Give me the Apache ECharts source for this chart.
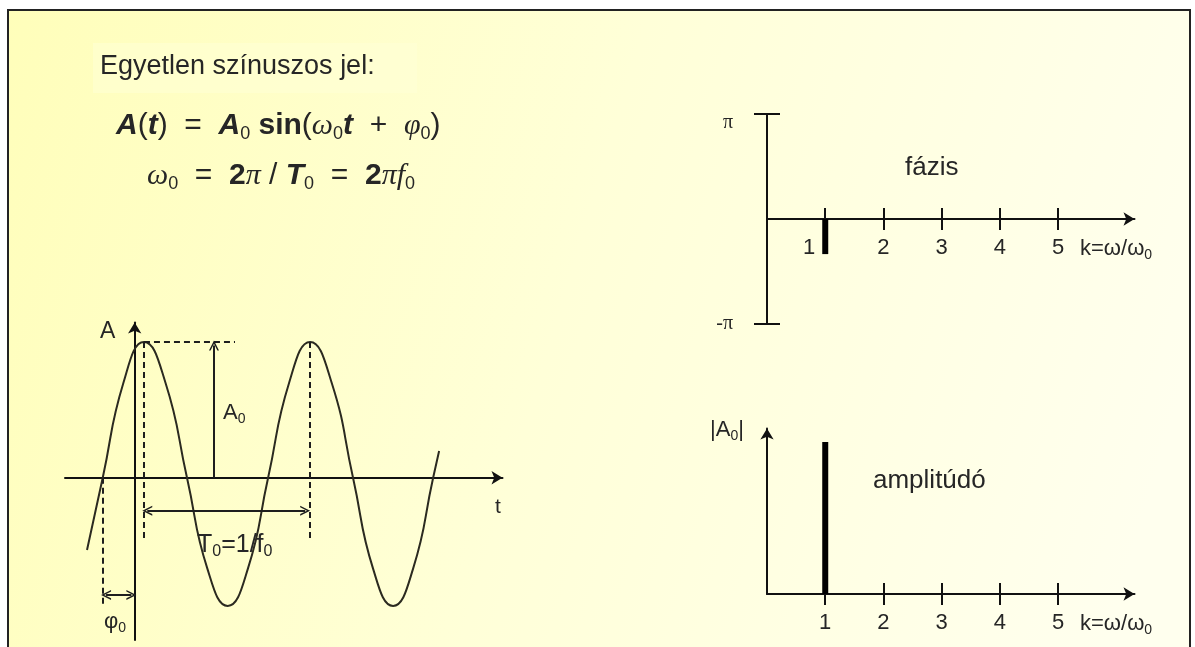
<!DOCTYPE html>
<html>
<head>
<meta charset="utf-8">
<style>
html, body { margin: 0; padding: 0; background: #fff; }
#chartContainer { width: 1195px; height: 647px; }
</style>
<script src="https://cdn.jsdelivr.net/npm/echarts@6.0.0/dist/echarts.min.js"></script>
</head>
<body>
<div id="chartContainer"></div>
<script>
'use strict';
// sine wave: t in periods (T0 = 1), A in units of A0
const waveT = [-0.288, -0.193, -0.068, 0.056, 0.186, 0.316, 0.439, 0.562, 0.684, 0.806, 0.933, 1.060, 1.190, 1.319, 1.440, 1.561, 1.682, 1.803, 1.839];
const waveA = [-0.533, 0, 0.70, 1.0, 0.70, 0, -0.67, -0.945, -0.67, 0, 0.70, 1.0, 0.70, 0, -0.67, -0.945, -0.67, 0, 0.197];
const peakT = [0.056, 1.060];   // the two dashed peak markers
const phaseT = -0.193;          // zero crossing that marks phi0
const a0T = 0.479;              // where the A0 arrow stands
const periodArrowA = -0.243;
const phiArrowA = -0.864;

// spectrum
const harmonics = [1, 2, 3, 4, 5];
const phaseK = [1];
const phaseVal = [-1.05];       // radians
const ampK = [1];
const ampVal = [1];             // |A0|

let initChart = (function() {
    let chartContainer = document.getElementById('chartContainer');
    let demoChart = echarts.init(chartContainer);

    const ink = '#262626';
    const axisInk = '#111';
    const sans = "'Liberation Sans', Arial, sans-serif";
    const serif = "'Liberation Serif', 'Times New Roman', serif";
    const chevron = 'path://M0,10 L5,0 L10,10 L8.4,10 L5,3.2 L1.6,10 Z';

    function mathRich(size, lh) {
        let sub = Math.round(size * 0.6);
        return {
            it: { fontFamily: sans, fontSize: size, fontStyle: 'italic', fontWeight: 'bold', lineHeight: lh, fill: ink },
            b: { fontFamily: sans, fontSize: size, fontWeight: 'bold', lineHeight: lh, fill: ink },
            n: { fontFamily: sans, fontSize: size, lineHeight: lh, fill: ink },
            g: { fontFamily: serif, fontSize: size, fontStyle: 'italic', lineHeight: lh, fill: ink },
            s: { fontFamily: sans, fontSize: sub, lineHeight: Math.round(size * 0.36), verticalAlign: 'bottom', fill: ink }
        };
    }
    function labelRich(size, font) {
        return {
            m: { fontFamily: font || sans, fontSize: size, lineHeight: size + 4, fill: ink },
            s: { fontFamily: sans, fontSize: Math.round(size * 0.62), lineHeight: Math.round(size * 0.4), verticalAlign: 'bottom', fill: ink }
        };
    }
    function label(x, y, text, size, rich) {
        return {
            type: 'text', x: x, y: y, silent: true,
            style: rich ? { text: text, rich: rich, verticalAlign: 'middle' }
                        : { text: text, fontFamily: sans, fontSize: size, fill: ink, verticalAlign: 'middle' }
        };
    }

    const hideAll = {
        axisTick: { show: false }, axisLabel: { show: false }, splitLine: { show: false }
    };
    const arrowLine = {
        onZero: true, symbol: ['none', 'arrow'], symbolSize: [10, 11],
        lineStyle: { color: axisInk, width: 2 }
    };
    const kTick = { customValues: harmonics, length: 11, lineStyle: { color: axisInk, width: 2 } };
    const kLabel = {
        customValues: harmonics, margin: 18, fontFamily: sans, fontSize: 22, color: ink,
        formatter: '{value}'
    };

    let waveData = waveT.map(function(t, i) { return [t, waveA[i]]; });
    let phaseData = phaseK.map(function(k, i) { return [k, phaseVal[i]]; });
    let ampData = ampK.map(function(k, i) { return [k, ampVal[i]]; });

    let option = {
        backgroundColor: '#fff',
        animation: false,
        grid: [
            { left: 65, top: 322.5, width: 437.5, height: 317.5, outerBoundsMode: 'none' },
            { left: 767, top: 114, width: 367.5, height: 210, outerBoundsMode: 'none' },
            { left: 767, top: 428.5, width: 367.5, height: 165.5, outerBoundsMode: 'none' }
        ],
        xAxis: [
            Object.assign({ gridIndex: 0, type: 'value', min: -0.421, max: 2.222, axisLine: arrowLine }, hideAll),
            { gridIndex: 1, type: 'value', min: 0, max: 6.31, position: 'bottom',
              axisLine: arrowLine, axisTick: kTick,
              // labels stay at the grid bottom, so pull them up to the zero line
              axisLabel: Object.assign({}, kLabel, {
                  margin: -87,
                  formatter: function(v) { return v === 1 ? '{sh|1}' : String(v); },
                  rich: { sh: { fontFamily: sans, fontSize: 22, color: ink, padding: [0, 32, 0, 0] } }
              }),
              splitLine: { show: false } },
            { gridIndex: 1, type: 'value', min: 0, max: 6.31, position: 'bottom',
              axisLine: { show: false, onZero: true, onZeroAxisIndex: 1 },
              axisTick: Object.assign({ inside: true }, kTick), axisLabel: { show: false }, splitLine: { show: false } },
            { gridIndex: 2, type: 'value', min: 0, max: 6.31, position: 'bottom',
              axisLine: arrowLine, axisTick: kTick, axisLabel: kLabel, splitLine: { show: false } },
            { gridIndex: 2, type: 'value', min: 0, max: 6.31, position: 'bottom',
              axisLine: { show: false },
              axisTick: Object.assign({ inside: true }, kTick), axisLabel: { show: false }, splitLine: { show: false } }
        ],
        yAxis: [
            Object.assign({ gridIndex: 0, type: 'value', min: -1.196, max: 1.144, axisLine: arrowLine }, hideAll),
            { gridIndex: 1, type: 'value', min: -Math.PI, max: Math.PI, position: 'left',
              axisLine: { onZero: true, lineStyle: { color: axisInk, width: 2 } },
              axisTick: { customValues: [-Math.PI, Math.PI], length: 13, lineStyle: { color: axisInk, width: 2 } },
              axisLabel: {
                  customValues: [-Math.PI, Math.PI], margin: 34,
                  formatter: function(v) { return v > 0 ? '{hi|π}' : '{lo|-π}'; },
                  rich: {
                      hi: { fontFamily: serif, fontSize: 20, color: ink, padding: [18, 0, 0, 0] },
                      lo: { fontFamily: serif, fontSize: 20, color: ink }
                  }
              },
              splitLine: { show: false } },
            { gridIndex: 1, type: 'value', min: -Math.PI, max: Math.PI, position: 'left',
              axisLine: { show: false },
              axisTick: { customValues: [-Math.PI, Math.PI], length: 13, inside: true, lineStyle: { color: axisInk, width: 2 } },
              axisLabel: { show: false }, splitLine: { show: false } },
            Object.assign({ gridIndex: 2, type: 'value', min: 0, max: 1.089, axisLine: arrowLine }, hideAll)
        ],
        graphic: [
            { type: 'rect', z: -10, silent: true,
              shape: { x: 8, y: 10, width: 1182, height: 700 },
              style: {
                  fill: new echarts.graphic.LinearGradient(0, 0, 1, 0.5, [
                      { offset: 0, color: '#fffeba' },
                      { offset: 0.5, color: '#ffffd8' },
                      { offset: 1, color: '#ffffee' }
                  ]),
                  stroke: '#222', lineWidth: 2
              } },
            { type: 'rect', z: -9, silent: true,
              shape: { x: 93, y: 43, width: 324, height: 50 },
              style: { fill: 'rgba(255,255,215,0.5)' } },
            label(100, 66.5, 'Egyetlen színuszos jel:', 27),
            { type: 'text', x: 116, y: 109, silent: true,
              style: { verticalAlign: 'top', rich: mathRich(30, 34),
                       text: '{it|A}{n|(}{it|t}{n|)  =  }{it|A}{s|0}{b| sin}{n|(}{g|ω}{s|0}{it|t}{n|  +  }{g|φ}{s|0}{n|)}' } },
            { type: 'text', x: 147, y: 159, silent: true,
              style: { verticalAlign: 'top', rich: mathRich(30, 34),
                       text: '{g|ω}{s|0}{n|  =  }{b|2}{g|π}{n| / }{it|T}{s|0}{n|  =  }{b|2}{g|πf}{s|0}' } },
            // time plot labels
            label(100, 331.5, 'A', 23),
            label(495, 507, 't', 21),
            label(223, 413, '{m|A}{s|0}', 0, labelRich(22)),
            label(197, 545, '{m|T}{s|0}{m|=1/f}{s|0}', 0, labelRich(25)),
            label(104, 622, '{m|φ}{s|0}', 0, labelRich(22)),
            // spectrum labels
            label(905, 168, 'fázis', 26),
            label(1080, 249, '{m|k=ω/ω}{s|0}', 0, labelRich(22)),
            label(710, 430, '{m||A}{s|0}{m||}', 0, labelRich(22)),
            label(873, 481, 'amplitúdó', 26),
            label(1080, 624, '{m|k=ω/ω}{s|0}', 0, labelRich(22))
        ],
        series: [{
            name: 'A(t)',
            type: 'line',
            xAxisIndex: 0, yAxisIndex: 0,
            data: waveData,
            smooth: true,
            showSymbol: false,
            silent: true,
            lineStyle: { color: '#2b2a20', width: 2 },
            markLine: {
                silent: true, animation: false, symbol: 'none', symbolSize: [10, 10],
                label: { show: false },
                lineStyle: { color: '#1e1e1e', width: 2, type: [6, 4] },
                data: [
                    [{ coord: [peakT[0], 1] }, { coord: [peakT[0], -0.459] }],
                    [{ coord: [peakT[0], 1] }, { coord: [0.606, 1] }],
                    [{ coord: [peakT[1], 1] }, { coord: [peakT[1], -0.459] }],
                    [{ coord: [phaseT, 0] }, { coord: [phaseT, -0.953] }],
                    [{ coord: [a0T, 0], lineStyle: { type: 'solid', width: 2, color: '#1e1e1e' } },
                     { coord: [a0T, 0.975], symbol: chevron }],
                    [{ coord: [peakT[0] + 0.02, periodArrowA], symbol: chevron, lineStyle: { type: 'solid', width: 2, color: '#1e1e1e' } },
                     { coord: [peakT[1] - 0.03, periodArrowA], symbol: chevron }],
                    [{ coord: [phaseT + 0.02, phiArrowA], symbol: chevron, lineStyle: { type: 'solid', width: 2, color: '#1e1e1e' } },
                     { coord: [-0.02, phiArrowA], symbol: chevron }]
                ]
            }
        }, {
            name: 'fázis',
            type: 'bar',
            xAxisIndex: 1, yAxisIndex: 1,
            data: phaseData,
            barWidth: 6,
            silent: true,
            itemStyle: { color: '#000' }
        }, {
            name: 'amplitúdó',
            type: 'bar',
            xAxisIndex: 3, yAxisIndex: 3,
            data: ampData,
            barWidth: 6,
            silent: true,
            itemStyle: { color: '#000' }
        }]
    };

    demoChart.setOption(option);
})();
</script>
</body>
</html>
